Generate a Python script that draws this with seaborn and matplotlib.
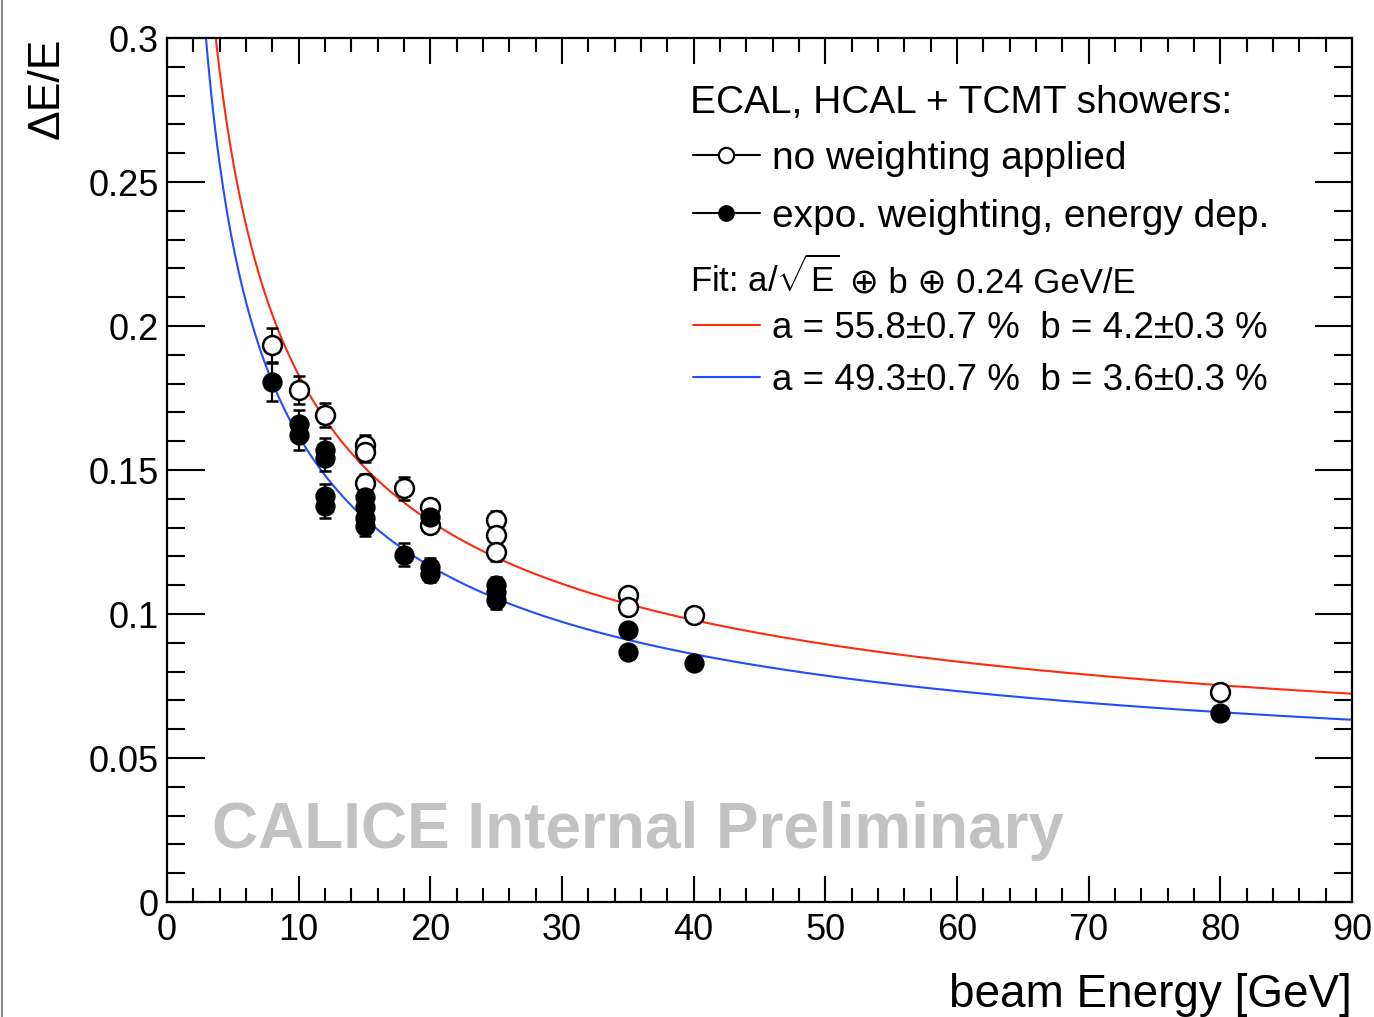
import numpy as np
import pandas as pd
import matplotlib
matplotlib.use("Agg")
import matplotlib.pyplot as plt
import seaborn as sns
from matplotlib.lines import Line2D
from matplotlib.ticker import MultipleLocator, FuncFormatter
from matplotlib.offsetbox import TextArea, HPacker, AnchoredOffsetbox

# ---------------- data ----------------
E_open = [8, 10, 12, 15, 15, 15, 18, 20, 20, 25, 25, 25, 35, 35, 40, 80]
res_open = [0.1934, 0.1778, 0.1690, 0.1587, 0.1563, 0.1455, 0.1437, 0.1370, 0.1310,
            0.1326, 0.1274, 0.1215, 0.1066, 0.1024, 0.0997, 0.0729]
err_open = [0.0060, 0.0050, 0.0042, 0.0035, 0.0035, 0.0030, 0.0040, 0.0030, 0.0030,
            0.0030, 0.0030, 0.0030, 0.0022, 0.0022, 0.0022, 0.0020]

E_wght = [8, 10, 10, 12, 12, 12, 12, 15, 15, 15, 15, 18, 20, 20, 20, 25, 25, 25, 35, 35, 40, 80]
res_wght = [0.1806, 0.1660, 0.1620, 0.1570, 0.1540, 0.1410, 0.1375, 0.1405, 0.1370, 0.1335,
            0.1305, 0.1205, 0.1337, 0.1164, 0.1140, 0.1100, 0.1077, 0.1048, 0.0944, 0.0868,
            0.0830, 0.0656]
err_wght = [0.0066, 0.0050, 0.0050, 0.0042, 0.0042, 0.0040, 0.0040, 0.0035, 0.0035, 0.0035,
            0.0035, 0.0040, 0.0030, 0.0030, 0.0030, 0.0030, 0.0030, 0.0030, 0.0022, 0.0022,
            0.0022, 0.0020]

# fit parameters (stated in the legend): a/sqrt(E) (+) b (+) c/E
fit_a = [0.558, 0.493]
fit_b = [0.042, 0.036]
fit_c = 0.24
fit_labels = ["a = 55.8\u00b10.7 %  b = 4.2\u00b10.3 %",
              "a = 49.3\u00b10.7 %  b = 3.6\u00b10.3 %"]
fit_colors = ["#ff2a10", "#1f4dff"]

x_ticks = [0, 10, 20, 30, 40, 50, 60, 70, 80, 90]
y_ticks = [0, 0.05, 0.1, 0.15, 0.2, 0.25, 0.3]

# ---------------- style ----------------
sns.set_theme(style="ticks")
FAM = ["Liberation Sans", "DejaVu Sans"]
plt.rcParams["font.family"] = FAM
plt.rcParams["mathtext.fontset"] = "custom"
plt.rcParams["mathtext.rm"] = "Liberation Sans"
plt.rcParams["mathtext.it"] = "Liberation Sans:italic"
plt.rcParams["mathtext.bf"] = "Liberation Sans:bold"
for k in ["text.color", "axes.labelcolor", "xtick.color", "ytick.color", "axes.edgecolor"]:
    plt.rcParams[k] = "black"

W, H = 1374, 1017
fig = plt.figure(figsize=(W / 100, H / 100), dpi=100)
fig.patch.set_facecolor("white")
ax = fig.add_axes([167 / W, 1 - 902 / H, (1352 - 167) / W, (902 - 38) / H])
ax.set_facecolor("white")

df_open = pd.DataFrame({"E": E_open, "res": res_open, "err": err_open})
df_w = pd.DataFrame({"E": E_wght, "res": res_wght, "err": err_wght})

# fit curves
E_grid = np.linspace(1.0, 90.0, 600)
for a, b, col in zip(fit_a, fit_b, fit_colors):
    dfc = pd.DataFrame({"E": E_grid,
                        "res": np.sqrt((a / np.sqrt(E_grid)) ** 2 + b ** 2 + (fit_c / E_grid) ** 2)})
    sns.lineplot(data=dfc, x="E", y="res", color=col, lw=1.5, ax=ax, zorder=2)

# error bars
ax.errorbar(df_open["E"], df_open["res"], yerr=df_open["err"], fmt="none",
            ecolor="black", elinewidth=1.6, capsize=4, capthick=1.8, zorder=3)
ax.errorbar(df_w["E"], df_w["res"], yerr=df_w["err"], fmt="none",
            ecolor="black", elinewidth=1.6, capsize=4, capthick=1.8, zorder=3)

# markers
sns.scatterplot(data=df_open, x="E", y="res", marker="o", s=185, facecolor="white",
                edgecolor="black", linewidth=1.8, ax=ax, zorder=4)
sns.scatterplot(data=df_w, x="E", y="res", marker="o", s=185, color="black",
                edgecolor="black", linewidth=1.0, ax=ax, zorder=5)

# ---------------- axes ----------------
ax.set_xlim(0, 90)
ax.set_ylim(0, 0.3)
ax.set_xticks(x_ticks)
ax.set_yticks(y_ticks)
ax.xaxis.set_minor_locator(MultipleLocator(2))
ax.yaxis.set_minor_locator(MultipleLocator(0.01))
ax.yaxis.set_major_formatter(FuncFormatter(lambda v, p: f"{v:g}"))
ax.xaxis.set_major_formatter(FuncFormatter(lambda v, p: f"{v:g}"))
for sp in ax.spines.values():
    sp.set_visible(True)
    sp.set_linewidth(1.6)
    sp.set_color("black")
ax.tick_params(axis="both", which="both", direction="in", top=True, right=True,
               colors="black", labelcolor="black", width=1.5, labelsize=26)
ax.tick_params(axis="x", which="major", length=19, pad=8)
ax.tick_params(axis="x", which="minor", length=10)
ax.tick_params(axis="y", which="major", length=27, pad=6)
ax.tick_params(axis="y", which="minor", length=13)
ax.grid(False)

ax.set_xlabel("beam Energy [GeV]", fontsize=33, loc="right", color="black")
ax.xaxis.set_label_coords(1.0, -(973 - 902) / 864)
ax.set_ylabel("\u0394E/E", fontsize=32, loc="top", color="black")
ax.yaxis.set_label_coords(-(167 - 68) / 1185, 1.0)

# watermark
ax.text((212 - 167) / 1185, (902 - 848) / 864, "CALICE Internal Preliminary",
        transform=ax.transAxes, fontsize=46, fontweight="bold", color="#c2c2c2",
        ha="left", va="baseline", zorder=1)

# ---------------- legend ----------------
ax.text((690 - 167) / 1185, (902 - 113) / 864, "ECAL, HCAL + TCMT showers:",
        transform=ax.transAxes, fontsize=28, ha="left", va="baseline", color="black")
h_open = Line2D([], [], color="black", lw=1.5, marker="o", ms=11, mfc="white", mec="black", mew=1.6)
h_fill = Line2D([], [], color="black", lw=1.5, marker="o", ms=11, mfc="black", mec="black")
leg1 = ax.legend([h_open, h_fill], ["no weighting applied", "expo. weighting, energy dep."],
                 loc="upper left", bbox_to_anchor=((693 - 167) / 1185, (902 - 141) / 864),
                 bbox_transform=ax.transAxes, frameon=False, fontsize=28,
                 handlelength=1.72, handletextpad=0.31, labelspacing=0.56,
                 borderpad=0, borderaxespad=0, labelcolor="black")
ax.add_artist(leg1)

# "Fit: a/sqrt(E) (+) b (+) 0.24 GeV/E" line: math part + plain part (for the (+) glyph)
ta1 = TextArea("Fit: a/$\\sqrt{\\mathrm{E}}$", textprops=dict(fontsize=25, color="black"))
ta2 = TextArea(" \u2295 b \u2295 0.24 GeV/E", textprops=dict(fontsize=25, color="black", family=FAM))
fit_box = HPacker(children=[ta1, ta2], align="baseline", pad=0, sep=0)
anch = AnchoredOffsetbox(loc="lower left", child=fit_box, frameon=False, pad=0, borderpad=0,
                         bbox_to_anchor=((690 - 167) / 1185, (902 - 299) / 864),
                         bbox_transform=ax.transAxes)
ax.add_artist(anch)

h_red = Line2D([], [], color=fit_colors[0], lw=1.5)
h_blue = Line2D([], [], color=fit_colors[1], lw=1.5)
leg2 = ax.legend([h_red, h_blue], fit_labels,
                 loc="upper left", bbox_to_anchor=((693 - 167) / 1185, (902 - 311) / 864),
                 bbox_transform=ax.transAxes, frameon=False, fontsize=26.5,
                 handlelength=1.83, handletextpad=0.33, labelspacing=0.47,
                 borderpad=0, borderaxespad=0, labelcolor="black")

# thin grey border line at the left edge of the picture
fig.add_artist(Line2D([0.0015, 0.0015], [0, 1], transform=fig.transFigure,
                      color="#8a8a8a", lw=1.5))

fig.savefig("out.png", dpi=100)
